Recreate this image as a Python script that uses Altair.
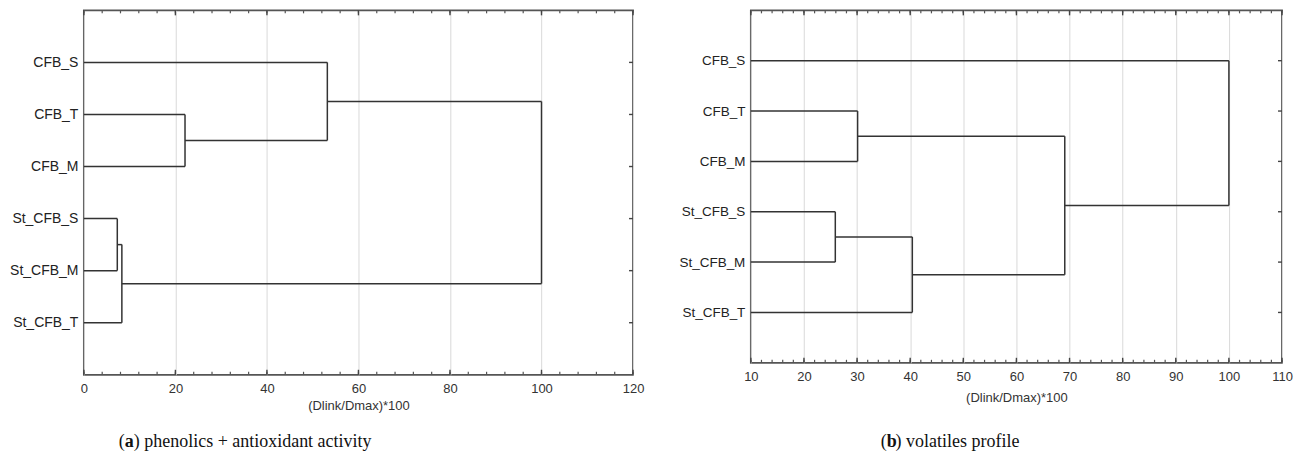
import json
import altair as alt
import pandas as pd

# ---- data ----
LEAVES = ["CFB_S", "CFB_T", "CFB_M", "St_CFB_S", "St_CFB_M", "St_CFB_T"]

# panel (a): merges (node A, node B, linkage distance); new nodes are m0, m1, ...
a_first = ["CFB_T", "St_CFB_S", "m1", "CFB_S", "m3"]
a_second = ["CFB_M", "St_CFB_M", "St_CFB_T", "m0", "m2"]
a_height = [22.1, 7.3, 8.3, 53.2, 100.0]
a_major = [0, 20, 40, 60, 80, 100, 120]
a_minor = list(range(0, 121, 4))
a_caption = ["(", "a", ") phenolics + antioxidant activity"]

# panel (b)
b_first = ["CFB_T", "St_CFB_S", "m1", "m0", "CFB_S"]
b_second = ["CFB_M", "St_CFB_M", "St_CFB_T", "m2", "m3"]
b_height = [30.1, 25.9, 40.4, 69.1, 100.0]
b_major = [10, 20, 30, 40, 50, 60, 70, 80, 90, 100, 110]
b_minor = list(range(10, 111, 2))
b_caption = ["(", "b", ") volatiles profile"]

X_TITLE = "(Dlink/Dmax)*100"


def segments(first, second, heights, xmin):
    nodes = {name: (xmin, i + 1) for i, name in enumerate(LEAVES)}
    rows = []
    for k, (a, b, h) in enumerate(zip(first, second, heights)):
        xa, ya = nodes[a]
        xb, yb = nodes[b]
        rows.append({"x": xa, "x2": h, "y": ya, "y2": ya})
        rows.append({"x": xb, "x2": h, "y": yb, "y2": yb})
        rows.append({"x": h, "x2": h, "y": ya, "y2": yb})
        nodes["m%d" % k] = (h, (ya + yb) / 2)
    return pd.DataFrame(rows)


LABEL_EXPR = "%s[datum.value]" % json.dumps([""] + LEAVES + [""])
FONT = "Liberation Sans"
SERIF = "Liberation Serif"
LINE = "#333333"


def panel(first, second, heights, xmin, xmax, major, minor, width, height,
          caption, cap_x, cap_dy, title_pad, ylab_size):
    segs = segments(first, second, heights, xmin)
    xs = alt.Scale(domain=[xmin, xmax], nice=False, zero=False)
    ys = alt.Scale(domain=[0, 7], reverse=True, nice=False, zero=False)
    lines = alt.Chart(segs).mark_rule(color=LINE, strokeWidth=1.5).encode(
        x=alt.X("x:Q", scale=xs, axis=alt.Axis(
            values=major, grid=True, gridColor="#d9d9d9", gridWidth=1,
            ticks=False, domain=False, labelFont=FONT, labelFontSize=13,
            labelColor="#333", labelPadding=8, title=X_TITLE,
            titleFont=FONT, titleFontSize=13, titleFontWeight="normal",
            titleColor="#333", titlePadding=title_pad, labelFlush=False)),
        x2="x2:Q",
        y=alt.Y("y:Q", scale=ys, axis=alt.Axis(
            values=[1, 2, 3, 4, 5, 6], labelExpr=LABEL_EXPR, grid=False,
            ticks=False, domain=False, labelFont=FONT, labelFontSize=ylab_size,
            labelColor="#222", labelPadding=6, title=None,
            minExtent=74, maxExtent=74)),
        y2="y2:Q",
    )
    mdf = pd.DataFrame({"x": minor})
    jdf = pd.DataFrame({"x": major})
    top = alt.Chart(mdf).mark_rule(color="#555", strokeWidth=1.2).encode(
        x=alt.X("x:Q", scale=xs), y=alt.value(0), y2=alt.value(3))
    bot = alt.Chart(mdf).mark_rule(color="#555", strokeWidth=1.2).encode(
        x=alt.X("x:Q", scale=xs), y=alt.value(height), y2=alt.value(height - 3))
    topj = alt.Chart(jdf).mark_rule(color="#444", strokeWidth=1.4).encode(
        x=alt.X("x:Q", scale=xs), y=alt.value(0), y2=alt.value(5))
    botj = alt.Chart(jdf).mark_rule(color="#444", strokeWidth=1.4).encode(
        x=alt.X("x:Q", scale=xs), y=alt.value(height), y2=alt.value(height - 5))
    rdf = pd.DataFrame({"y": [1, 2, 3, 4, 5, 6]})
    right = alt.Chart(rdf).mark_rule(color="#444", strokeWidth=1.4).encode(
        y=alt.Y("y:Q", scale=ys), x=alt.value(width), x2=alt.value(width - 4))
    cy = height + cap_dy
    c1 = alt.Chart(pd.DataFrame({"t": [caption[0]]})).mark_text(
        font=SERIF, fontSize=18, align="left", baseline="middle", color="#111"
    ).encode(text="t:N", x=alt.value(cap_x), y=alt.value(cy))
    c2 = alt.Chart(pd.DataFrame({"t": [caption[1]]})).mark_text(
        font=SERIF, fontSize=18, fontWeight="bold", align="left",
        baseline="middle", color="#111"
    ).encode(text="t:N", x=alt.value(cap_x + 6), y=alt.value(cy))
    c3 = alt.Chart(pd.DataFrame({"t": [caption[2]]})).mark_text(
        font=SERIF, fontSize=18, align="left", baseline="middle", color="#111"
    ).encode(text="t:N", x=alt.value(cap_x + 15), y=alt.value(cy))
    return alt.layer(lines, top, bot, topj, botj, right, c1, c2, c3).properties(
        width=width, height=height)


left = panel(a_first, a_second, a_height, 0, 120, a_major, a_minor, 550, 365,
             a_caption, 35, 67, 4, 14)
right = panel(b_first, b_second, b_height, 10, 110, b_major, b_minor, 532, 353,
              b_caption, 130, 79, 8, 13.5)

chart = alt.hconcat(left, right, spacing=31).properties(
    padding={"left": 0, "top": 0, "right": 0, "bottom": 0}
).configure(background="white").configure_view(stroke="#555", strokeWidth=1.8)

chart.save("out.html", embed_options={"renderer": "svg", "actions": False})
